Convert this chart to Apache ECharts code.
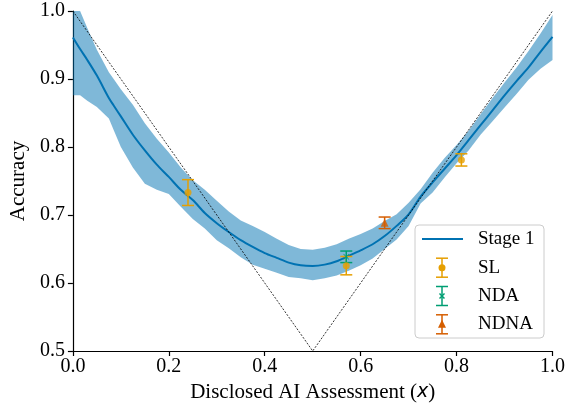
<!DOCTYPE html>
<html>
<head>
<meta charset="utf-8">
<script src="https://cdn.jsdelivr.net/npm/echarts@6/dist/echarts.min.js"></script>
<style>html,body{margin:0;padding:0;background:#fff;}#c{width:568px;height:408px;}</style>
</head>
<body>
<div id="c"></div>
<script>
// ---- data ----
const bandX = [0.000,0.015,0.030,0.050,0.075,0.085,0.100,0.125,0.150,0.175,0.200,0.225,0.250,0.275,0.300,0.325,0.350,0.375,0.400,0.425,0.450,0.475,0.500,0.525,0.550,0.575,0.600,0.625,0.650,0.675,0.700,0.725,0.750,0.775,0.800,0.825,0.850,0.875,0.900,0.925,0.950,0.975,1.000];
const bandUpper = [1.000,1.000,0.975,0.943,0.910,0.900,0.885,0.862,0.835,0.812,0.792,0.770,0.751,0.737,0.721,0.705,0.692,0.684,0.675,0.665,0.656,0.650,0.649,0.652,0.657,0.665,0.672,0.680,0.691,0.701,0.718,0.738,0.762,0.784,0.803,0.824,0.848,0.872,0.895,0.917,0.941,0.967,0.994];
const stage1Mean = [0.961,0.944,0.928,0.905,0.872,0.861,0.845,0.818,0.795,0.774,0.756,0.737,0.722,0.703,0.688,0.675,0.663,0.653,0.644,0.637,0.630,0.626,0.625,0.627,0.632,0.640,0.648,0.657,0.669,0.684,0.701,0.727,0.748,0.768,0.788,0.810,0.832,0.854,0.876,0.897,0.917,0.940,0.962];
const bandLower = [0.876,0.876,0.868,0.859,0.842,0.825,0.800,0.770,0.746,0.737,0.731,0.712,0.694,0.680,0.663,0.651,0.638,0.627,0.621,0.615,0.609,0.607,0.604,0.607,0.611,0.618,0.626,0.636,0.650,0.664,0.684,0.717,0.733,0.755,0.776,0.795,0.818,0.838,0.858,0.878,0.899,0.915,0.928];

const slX = [0.24, 0.57, 0.81];
const slY = [0.733, 0.6255, 0.781];
const slErr = [0.019, 0.0135, 0.009];
const ndaX = [0.57];
const ndaY = [0.6385];
const ndaErr = [0.0085];
const ndnaX = [0.65];
const ndnaY = [0.6885];
const ndnaErr = [0.0085];

const diagX = [0, 0.5, 1];
const diagY = [1, 0.5, 1];

const xTicks = [0.0, 0.2, 0.4, 0.6, 0.8, 1.0];
const yTicks = [0.5, 0.6, 0.7, 0.8, 0.9, 1.0];
const xTitle = 'Disclosed AI Assessment';
const yTitle = 'Accuracy';
const legendNames = ['Stage 1', 'SL', 'NDA', 'NDNA'];

// ---- styles ----
const C_LINE = '#0072B2', C_BAND = 'rgba(0,114,178,0.5)';
const C_SL = '#E69F00', C_NDA = '#009E73', C_NDNA = '#D55E00';
const FONT = 'Liberation Serif';
const X_MARK = 'path://M1,0 L5,4 L9,0 L10,1 L6,5 L10,9 L9,10 L5,6 L1,10 L0,9 L4,5 L0,1 Z';

const zip = (a, b, c) => a.map((v, i) => c ? [v, b[i], c[i]] : [v, b[i]]);

function errRender(params, api) {
  const x = api.value(0), y = api.value(1), e = api.value(2);
  const top = api.coord([x, y + e]);
  const bot = api.coord([x, y - e]);
  const col = api.visual('color');
  const cw = 6;
  const st = { stroke: col, lineWidth: 1.5 };
  return { type: 'group', children: [
    { type: 'line', shape: { x1: top[0], y1: top[1], x2: bot[0], y2: bot[1] }, style: st },
    { type: 'line', shape: { x1: top[0]-cw, y1: top[1], x2: top[0]+cw, y2: top[1] }, style: st },
    { type: 'line', shape: { x1: bot[0]-cw, y1: bot[1], x2: bot[0]+cw, y2: bot[1] }, style: st }
  ]};
}

function bandRender(params, api) {
  if (params.dataIndex !== 0) return;
  const pts = [];
  for (let i = 0; i < bandX.length; i++) pts.push(api.coord([bandX[i], bandUpper[i]]));
  for (let i = bandX.length - 1; i >= 0; i--) pts.push(api.coord([bandX[i], bandLower[i]]));
  return { type: 'polygon', shape: { points: pts, smooth: 0 }, style: { fill: C_BAND } };
}

// legend drawn as graphic
const LX = 415, LY = 225, LW = 129, LH = 113;
const rowsY = [239, 267.7, 296, 324.3];
const iconCX = 442, textX = 478;
function legendErr(cy, col, marker) {
  const st = { stroke: col, lineWidth: 1.5 };
  const h = 9.5, cw = 6;
  const arr = [
    { type: 'line', shape: { x1: iconCX, y1: cy-h, x2: iconCX, y2: cy+h }, style: st },
    { type: 'line', shape: { x1: iconCX-cw, y1: cy-h, x2: iconCX+cw, y2: cy-h }, style: st },
    { type: 'line', shape: { x1: iconCX-cw, y1: cy+h, x2: iconCX+cw, y2: cy+h }, style: st }
  ];
  if (marker === 'circle') arr.push({ type: 'circle', shape: { cx: iconCX, cy: cy, r: 3.5 }, style: { fill: col } });
  if (marker === 'x') {
    arr.push({ type: 'line', shape: { x1: iconCX-2.5, y1: cy-2.5, x2: iconCX+2.5, y2: cy+2.5 }, style: st });
    arr.push({ type: 'line', shape: { x1: iconCX-2.5, y1: cy+2.5, x2: iconCX+2.5, y2: cy-2.5 }, style: st });
  }
  if (marker === 'triangle') arr.push({ type: 'polygon', shape: { points: [[iconCX, cy-4.5], [iconCX+4, cy+3.5], [iconCX-4, cy+3.5]] }, style: { fill: col } });
  return arr;
}
const legendGraphic = [
  { type: 'rect', shape: { x: LX, y: LY, width: LW, height: LH, r: 4 }, style: { fill: 'rgba(255,255,255,0.8)', stroke: '#cccccc', lineWidth: 1 }, z: 100 },
  { type: 'line', shape: { x1: 422, y1: rowsY[0], x2: 463, y2: rowsY[0] }, style: { stroke: C_LINE, lineWidth: 2 }, z: 101 },
  ...legendErr(rowsY[1], C_SL, 'circle').map(o => Object.assign(o, { z: 101 })),
  ...legendErr(rowsY[2], C_NDA, 'x').map(o => Object.assign(o, { z: 101 })),
  ...legendErr(rowsY[3], C_NDNA, 'triangle').map(o => Object.assign(o, { z: 101 })),
  ...legendNames.map((n, i) => ({ type: 'text', x: textX, y: rowsY[i], z: 101,
    style: { text: n, font: '19px "Liberation Serif"', fill: '#000', textVerticalAlign: 'middle', verticalAlign: 'middle' } }))
];

const chart = echarts.init(document.getElementById('c'), null, { renderer: 'canvas' });
chart.setOption({
  animation: false,
  backgroundColor: '#fff',
  grid: { left: 71, right: 15, top: 11, bottom: 57, containLabel: false },
  xAxis: {
    type: 'value', min: 0, max: 1, interval: 0.2,
    name: '{n|' + xTitle + ' (}{i|x}{n|)}', nameLocation: 'middle', nameGap: 29,
    nameTextStyle: { fontFamily: FONT, fontSize: 21, color: '#000',
      rich: { i: { fontFamily: 'DejaVu Sans', fontStyle: 'italic', fontSize: 19, color: '#000' }, n: { fontFamily: FONT, fontSize: 21, color: '#000' } } },
    axisLine: { show: true, lineStyle: { color: '#000', width: 1.2 } },
    axisTick: { show: true, length: 5, lineStyle: { color: '#000', width: 1.2 } },
    axisLabel: { fontFamily: FONT, fontSize: 20, color: '#000', margin: 6,
      formatter: v => { const t = xTicks.find(k => Math.abs(k - v) < 1e-9); return t === undefined ? '' : t.toFixed(1); } },
    splitLine: { show: false }
  },
  yAxis: {
    type: 'value', min: 0.5, max: 1, interval: 0.1,
    name: yTitle, nameLocation: 'middle', nameGap: 43, nameRotate: 90,
    nameTextStyle: { fontFamily: FONT, fontSize: 21, color: '#000' },
    axisLine: { show: true, lineStyle: { color: '#000', width: 1.2 } },
    axisTick: { show: true, length: 5, lineStyle: { color: '#000', width: 1.2 } },
    axisLabel: { fontFamily: FONT, fontSize: 20, color: '#000', margin: 8,
      formatter: v => { const t = yTicks.find(k => Math.abs(k - v) < 1e-9); return t === undefined ? '' : t.toFixed(1); } },
    splitLine: { show: false }
  },
  graphic: legendGraphic,
  series: [
    { type: 'custom', name: 'band', renderItem: bandRender, data: [0], z: 1, silent: true },
    { type: 'line', name: 'Stage 1', data: zip(bandX, stage1Mean), smooth: 0.3, symbol: 'none',
      lineStyle: { color: C_LINE, width: 2 }, z: 2 },
    { type: 'line', name: 'diag', data: zip(diagX, diagY), symbol: 'none',
      lineStyle: { color: '#000', width: 0.8, type: [2, 1.5] }, z: 3 },
    { type: 'custom', name: 'SL err', renderItem: errRender, data: zip(slX, slY, slErr), itemStyle: { color: C_SL }, z: 4 },
    { type: 'custom', name: 'NDA err', renderItem: errRender, data: zip(ndaX, ndaY, ndaErr), itemStyle: { color: C_NDA }, z: 4 },
    { type: 'custom', name: 'NDNA err', renderItem: errRender, data: zip(ndnaX, ndnaY, ndnaErr), itemStyle: { color: C_NDNA }, z: 4 },
    { type: 'scatter', name: 'SL', data: zip(slX, slY), symbol: 'circle', symbolSize: 7, itemStyle: { color: C_SL }, z: 5 },
    { type: 'scatter', name: 'NDA', data: zip(ndaX, ndaY), symbol: X_MARK, symbolSize: 6, itemStyle: { color: C_NDA }, z: 5 },
    { type: 'scatter', name: 'NDNA', data: zip(ndnaX, ndnaY), symbol: 'triangle', symbolSize: 8, itemStyle: { color: C_NDNA }, z: 5 }
  ]
});
</script>
</body>
</html>
